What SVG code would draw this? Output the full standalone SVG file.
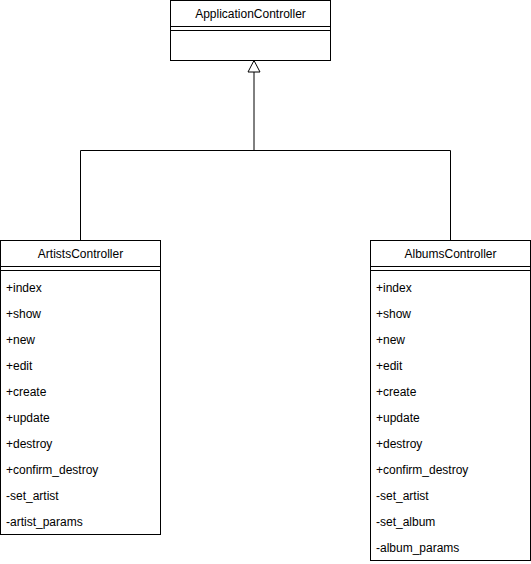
<svg xmlns="http://www.w3.org/2000/svg" width="531" height="564" viewBox="0 0 531 564">
<defs>
<style>
.box{fill:#ffffff;stroke:#000000;stroke-width:1}
.ln{fill:none;stroke:#000000;stroke-width:1}
.t{font-family:"Liberation Sans",Arial,sans-serif;font-size:12px;fill:#000000}
.h{text-anchor:middle}
</style>
<marker id="inh" markerWidth="16" markerHeight="14" refX="7.5" refY="0.5" orient="auto-start-reverse" markerUnits="userSpaceOnUse" viewBox="0 0 16 14">
<path d="M7.5 0.5 L1.5 12 L13.5 12 Z" fill="#ffffff" stroke="#000000" stroke-width="1"/>
</marker>
</defs>
<rect width="531" height="564" fill="#ffffff"/>
<g id="connectors">
<path class="ln" d="M254 72 L254 150.5 L80.5 150.5 L80.5 240.5 M254 150.5 L450.5 150.5 L450.5 240.5"/>
<path d="M254 60.5 L248 72 L260 72 Z" fill="#ffffff" stroke="#000000" stroke-width="1"/>
</g>
<g id="ApplicationController">
<rect class="box" x="170.5" y="0.5" width="160" height="60"/>
<line class="ln" x1="170.5" y1="26.5" x2="330.5" y2="26.5"/>
<line class="ln" x1="170.5" y1="30.5" x2="330.5" y2="30.5"/>
<text class="t h" x="250.5" y="18">ApplicationController</text>
</g>
<g id="ArtistsController">
<rect class="box" x="0.5" y="240.5" width="160" height="294"/>
<line class="ln" x1="0.5" y1="266.5" x2="160.5" y2="266.5"/>
<line class="ln" x1="0.5" y1="270.5" x2="160.5" y2="270.5"/>
<text class="t h" x="80.5" y="258">ArtistsController</text>
<text class="t" x="6" y="292">+index</text>
<text class="t" x="6" y="318">+show</text>
<text class="t" x="6" y="344">+new</text>
<text class="t" x="6" y="370">+edit</text>
<text class="t" x="6" y="396">+create</text>
<text class="t" x="6" y="422">+update</text>
<text class="t" x="6" y="448">+destroy</text>
<text class="t" x="6" y="474">+confirm_destroy</text>
<text class="t" x="6" y="500">-set_artist</text>
<text class="t" x="6" y="526">-artist_params</text>
</g>
<g id="AlbumsController">
<rect class="box" x="370.5" y="240.5" width="160" height="320"/>
<line class="ln" x1="370.5" y1="266.5" x2="530.5" y2="266.5"/>
<line class="ln" x1="370.5" y1="270.5" x2="530.5" y2="270.5"/>
<text class="t h" x="450.5" y="258">AlbumsController</text>
<text class="t" x="376" y="292">+index</text>
<text class="t" x="376" y="318">+show</text>
<text class="t" x="376" y="344">+new</text>
<text class="t" x="376" y="370">+edit</text>
<text class="t" x="376" y="396">+create</text>
<text class="t" x="376" y="422">+update</text>
<text class="t" x="376" y="448">+destroy</text>
<text class="t" x="376" y="474">+confirm_destroy</text>
<text class="t" x="376" y="500">-set_artist</text>
<text class="t" x="376" y="526">-set_album</text>
<text class="t" x="376" y="552">-album_params</text>
</g>
</svg>
